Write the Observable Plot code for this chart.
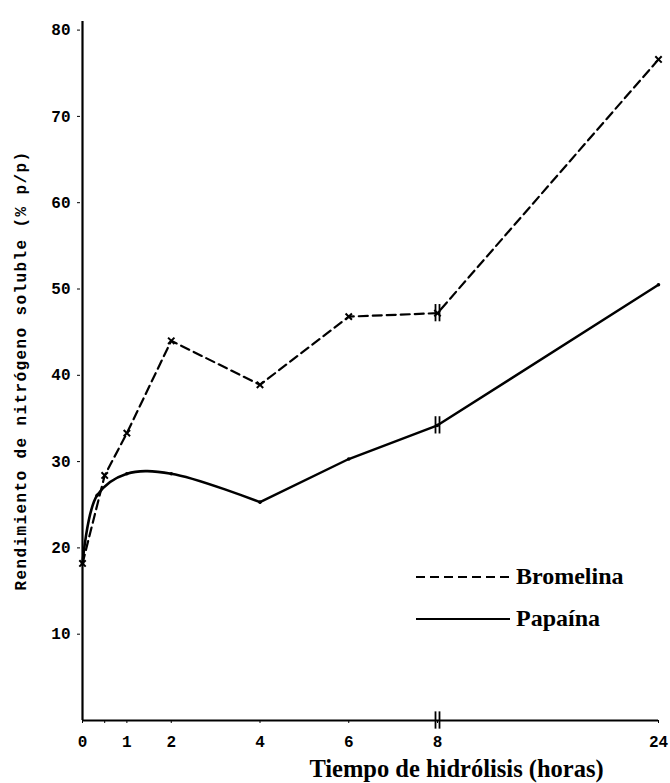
<!DOCTYPE html>
<html>
<head>
<meta charset="utf-8">
<script src="https://cdn.jsdelivr.net/npm/d3@7"></script>
<script src="https://cdn.jsdelivr.net/npm/@observablehq/plot@0.6"></script>
<style>
  html, body { margin: 0; padding: 0; background: #fff; }
  #wrap { position: relative; width: 670px; height: 783px; }
  .leg { position: absolute; font-family: "Liberation Serif", serif; font-weight: bold; font-size: 24px; color: #000; display: flex; align-items: center; }
  .leg svg { margin-right: 6px; }
  .ylab text { letter-spacing: 1.4px; }
</style>
</head>
<body>
<div id="wrap"></div>
<script>
// Data
const hours = [0, 0.5, 1, 2, 4, 6, 8, 24];
const bromelina = [18.2, 28.4, 33.3, 44.0, 38.9, 46.8, 47.2, 76.6];
const papainaHours = [0, 0.33, 1, 2, 4, 6, 8, 24];
const papaina = [18.2, 26.1, 28.6, 28.6, 25.3, 30.3, 34.2, 50.5];
const xTicks = [0, 0.5, 1, 2, 4, 6, 8, 24];
const xTickLabels = ["0", "", "1", "2", "4", "6", "8", "24"];
const yTicks = [10, 20, 30, 40, 50, 60, 70, 80];
const seriesNames = ["Bromelina", "Papaína"];

// broken time axis: 0–8 h at full scale, 8–24 h compressed
const compress = 221 / 355 * 8 / 16;
const pos = (t) => t <= 8 ? t : 8 + (t - 8) * compress;

const brom = hours.map((t, i) => ({t: pos(t), v: bromelina[i]}));
const papa = papainaHours.map((t, i) => ({t: pos(t), v: papaina[i]}));
const tickPos = xTicks.map(pos);
const p8 = pos(8);

const mono = "'Liberation Mono', 'DejaVu Sans Mono', monospace";
const serif = "'Liberation Serif', serif";

const chart = Plot.plot({
  width: 670,
  height: 783,
  marginLeft: 80, marginRight: 10, marginTop: 20, marginBottom: 63,
  style: {background: "#fff", color: "#000", overflow: "visible"},
  x: {domain: [0, pos(24)], range: [82, 658]},
  y: {domain: [0, 80], range: [720, 29.6]},
  marks: [
    Plot.ruleX([0], {y1: 0, y2: 81, stroke: "#000", strokeWidth: 2.2}),
    Plot.ruleY([0], {x1: 0, x2: pos(24), stroke: "#000", strokeWidth: 2.2}),
    Plot.axisY({ticks: yTicks, tickSize: 3, tickPadding: 7, fontSize: 16, fontWeight: "bold", fontFamily: mono, label: null}),
    Plot.axisX({ticks: tickPos, tickSize: 3, tickPadding: 12, fontSize: 16, fontWeight: "bold", fontFamily: mono,
      tickFormat: (d) => xTickLabels[tickPos.indexOf(d)], label: null}),
    // axis break at 8
    Plot.ruleX([p8], {y1: -1, y2: 1, dx: -2, stroke: "#000", strokeWidth: 1.8}),
    Plot.ruleX([p8], {y1: -1, y2: 1, dx: 2, stroke: "#000", strokeWidth: 1.8}),
    // Bromelina dashed
    Plot.line(brom, {x: "t", y: "v", stroke: "#000", strokeWidth: 2.2, strokeDasharray: "9,5"}),
    Plot.dot(brom, {x: "t", y: "v", symbol: "times", r: 3, stroke: "#000", strokeWidth: 2}),
    // Papaína solid: smooth early part, straight later
    Plot.line(papa.filter(d => d.t <= 4), {x: "t", y: "v", stroke: "#000", strokeWidth: 2.6, curve: "catmull-rom"}),
    Plot.line(papa.filter(d => d.t >= 4), {x: "t", y: "v", stroke: "#000", strokeWidth: 2.4}),
    Plot.dot(papa, {x: "t", y: "v", r: 1.8, fill: "#000"}),
    // break marks on both series at 8
    Plot.ruleX(brom.filter(d => d.t === p8), {x: "t", y1: d => d.v - 1, y2: d => d.v + 1, dx: -2, stroke: "#000", strokeWidth: 1.8}),
    Plot.ruleX(brom.filter(d => d.t === p8), {x: "t", y1: d => d.v - 1, y2: d => d.v + 1, dx: 2, stroke: "#000", strokeWidth: 1.8}),
    Plot.ruleX(papa.filter(d => d.t === p8), {x: "t", y1: d => d.v - 1, y2: d => d.v + 1, dx: -2, stroke: "#000", strokeWidth: 1.8}),
    Plot.ruleX(papa.filter(d => d.t === p8), {x: "t", y1: d => d.v - 1, y2: d => d.v + 1, dx: 2, stroke: "#000", strokeWidth: 1.8}),
    // axis titles
    Plot.text(["Rendimiento de nitrógeno soluble (% p/p)"], {frameAnchor: "left", textAnchor: "middle", dx: -60, rotate: -90, className: "ylab",
      fontFamily: mono, fontWeight: "bold", fontSize: 16, fill: "#000"}),
    Plot.text(["Tiempo de hidrólisis (horas)"], {frameAnchor: "bottom", dy: 56, dx: 86,
      fontFamily: serif, fontWeight: "bold", fontSize: 24.5, fill: "#000"})
  ]
});

const wrap = document.getElementById("wrap");
wrap.appendChild(chart);

function legendItem(name, dash, top) {
  const div = document.createElement("div");
  div.className = "leg";
  div.style.left = "416px";
  div.style.top = top + "px";
  const sw = d3.create("svg").attr("width", 94).attr("height", 10);
  sw.append("line").attr("x1", 0).attr("x2", 94).attr("y1", 5).attr("y2", 5)
    .attr("stroke", "#000").attr("stroke-width", dash ? 2 : 2.2)
    .attr("stroke-dasharray", dash ? "9,5" : null);
  div.appendChild(sw.node());
  const span = document.createElement("span");
  span.textContent = name;
  div.appendChild(span);
  wrap.appendChild(div);
}
legendItem(seriesNames[0], true, 563);
legendItem(seriesNames[1], false, 605);
</script>
</body>
</html>
